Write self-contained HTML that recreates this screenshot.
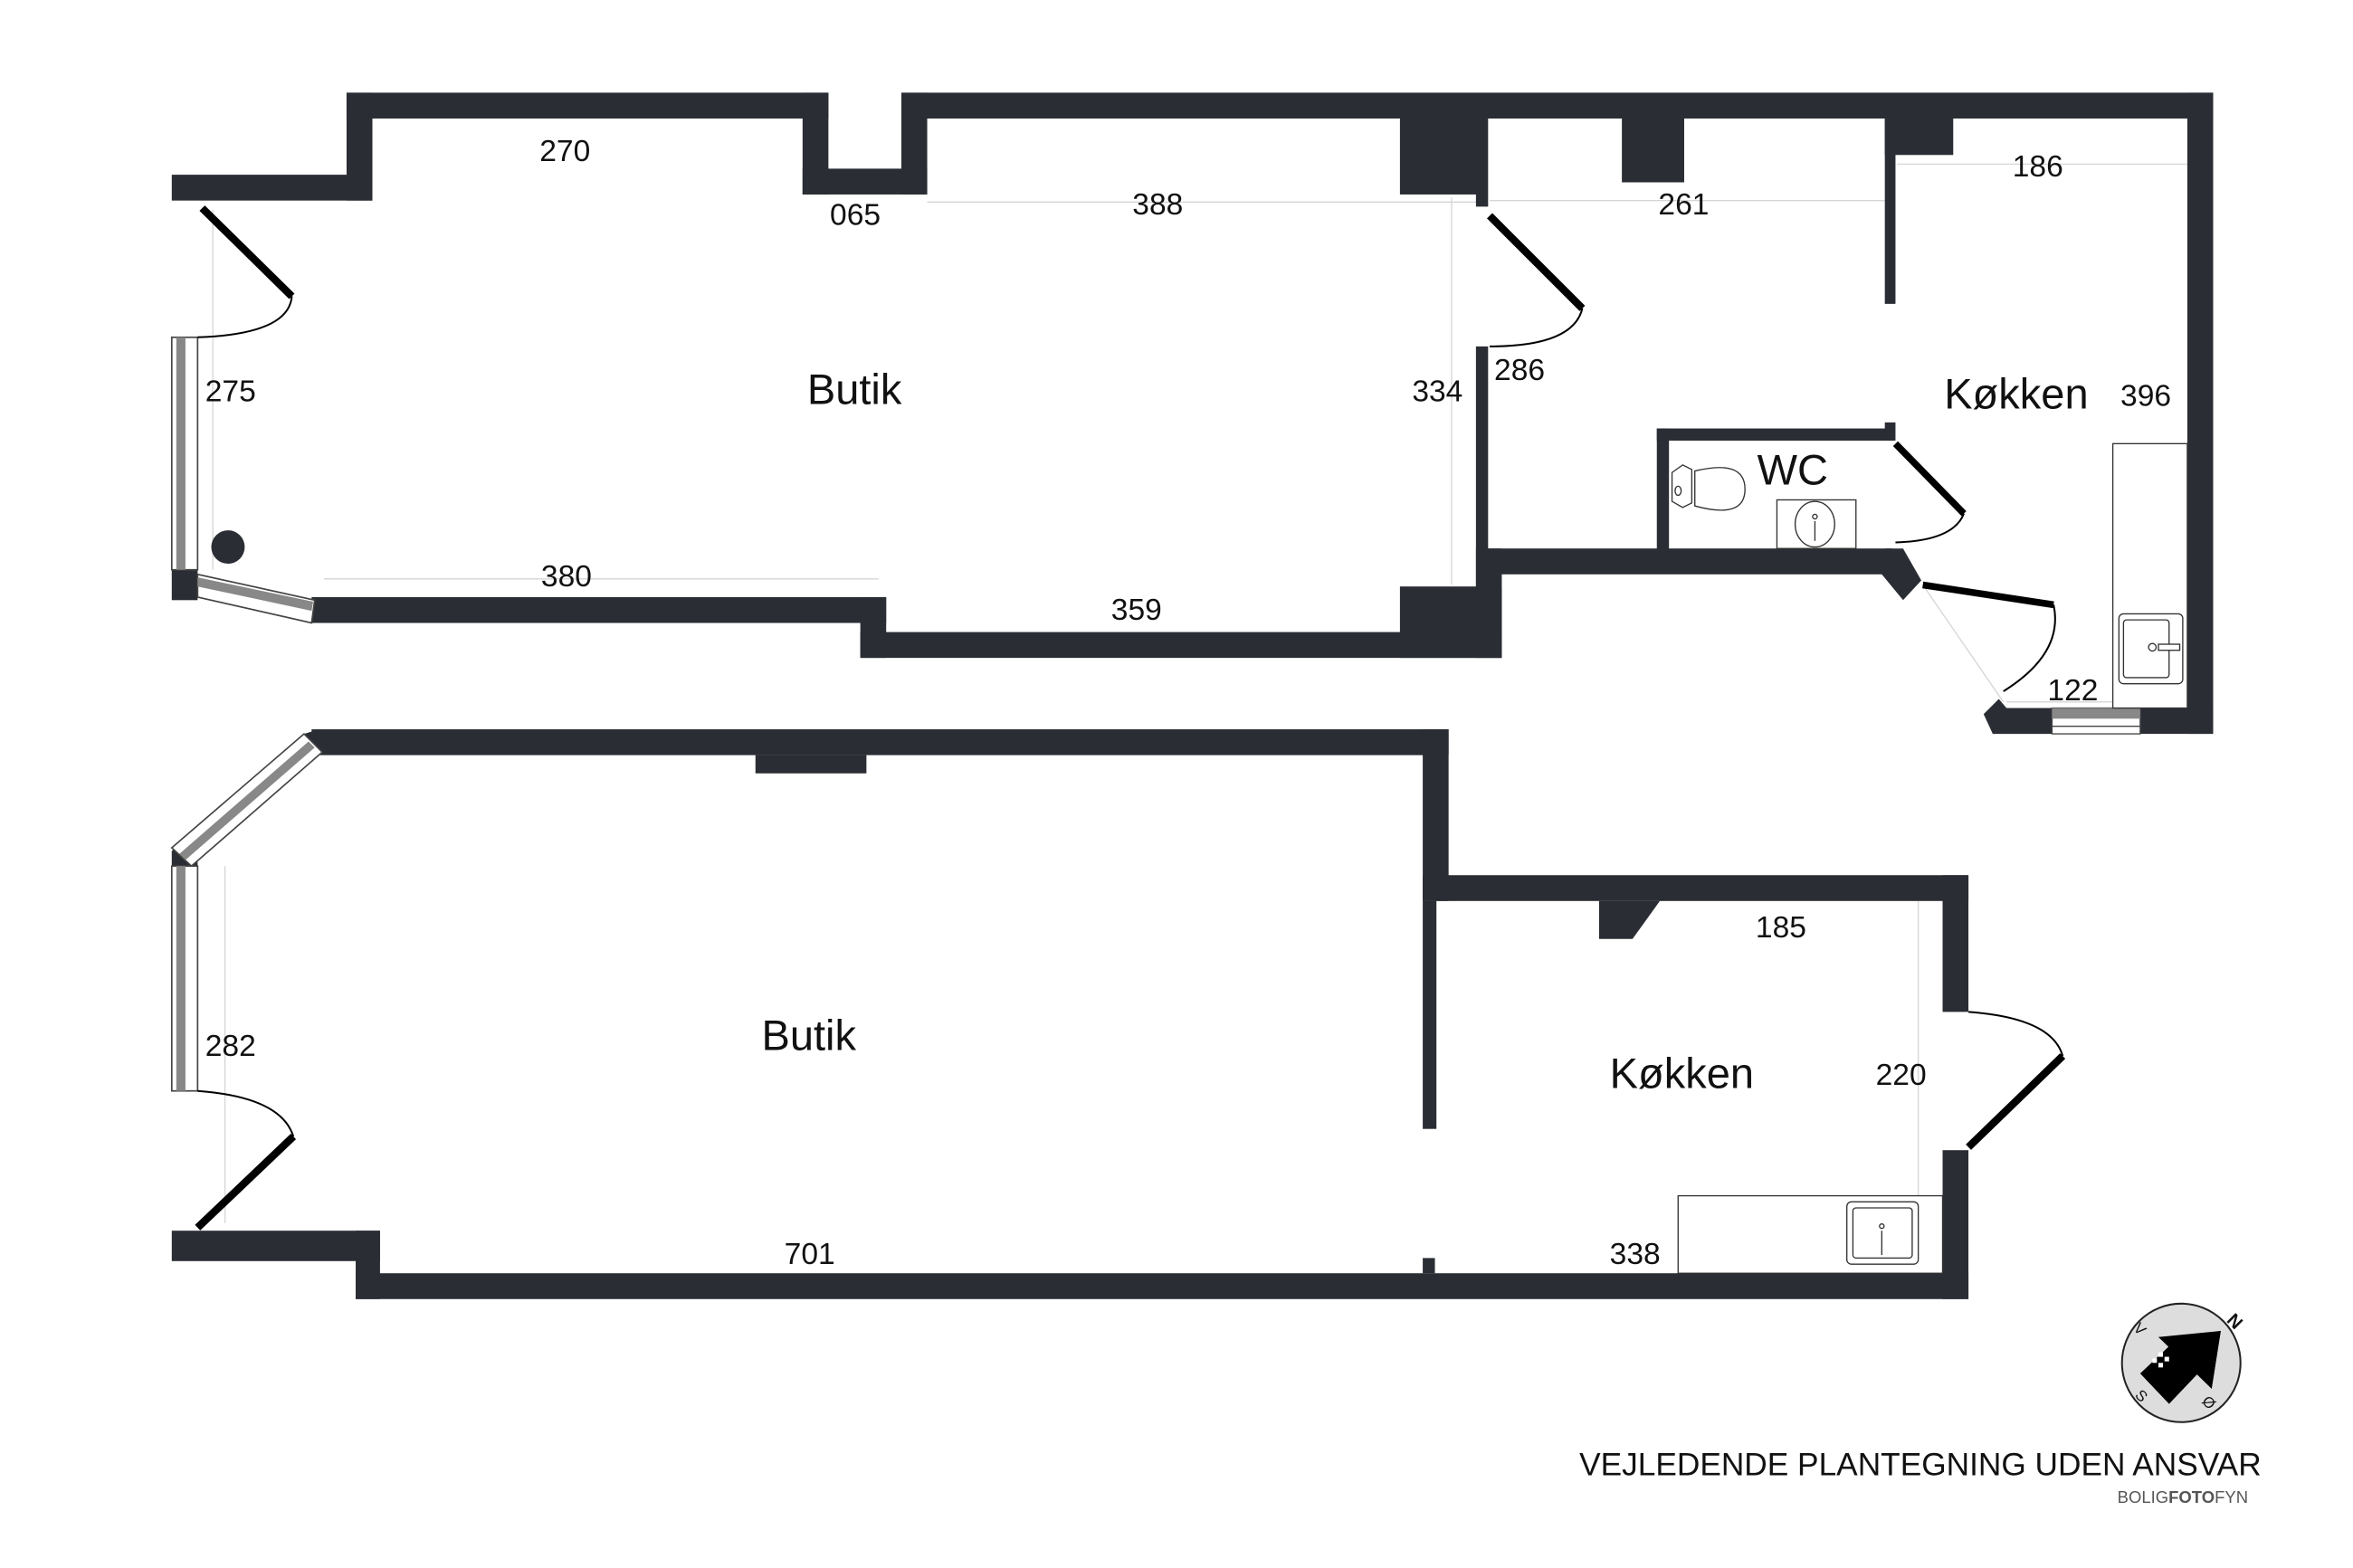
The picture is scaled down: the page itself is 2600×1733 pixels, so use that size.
<!DOCTYPE html>
<html><head><meta charset="utf-8"><style>
html,body{margin:0;padding:0;background:#fff;}
svg{display:block;}
text{font-family:"Liberation Sans",sans-serif;fill:#111;}
</style></head><body>
<svg width="2600" height="1733" viewBox="0 0 1548 1032" preserveAspectRatio="none" xmlns="http://www.w3.org/2000/svg">
<rect width="1548" height="1032" fill="#fff"/>
<g stroke="#d6d6d6" stroke-width="0.8" fill="none">
<line x1="610" y1="133" x2="972" y2="133"/>
<line x1="213" y1="381" x2="578" y2="381"/>
<line x1="1248" y1="108" x2="1439" y2="108"/>
<line x1="980" y1="132" x2="1240" y2="132"/>
<line x1="140" y1="138" x2="140" y2="375"/>
<line x1="955" y1="130" x2="955" y2="385"/>
<line x1="1320" y1="462" x2="1439" y2="462"/>
<line x1="148" y1="570" x2="148" y2="805"/>
<line x1="1262" y1="593" x2="1262" y2="787"/>
<line x1="1265" y1="385" x2="1318" y2="462"/>
</g>
<g fill="#2a2d33">
<!-- top plan -->
<rect x="113" y="115" width="132" height="17"/>
<rect x="228" y="61" width="17" height="71"/>
<rect x="228" y="61" width="317" height="17"/>
<rect x="528" y="61" width="17" height="67"/>
<rect x="528" y="111" width="82" height="17"/>
<rect x="593" y="61" width="17" height="67"/>
<rect x="593" y="61" width="863" height="17"/>
<rect x="921" y="78" width="57" height="50"/>
<rect x="971" y="78" width="8" height="58"/>
<rect x="971" y="228" width="8" height="158"/>
<rect x="1067" y="78" width="41" height="42"/>
<rect x="1240" y="78" width="45" height="24"/>
<rect x="1240" y="78" width="7" height="122"/>
<rect x="1439" y="61" width="17" height="422"/>
<rect x="113" y="375" width="17" height="20"/>
<rect x="205" y="393" width="378" height="17"/>
<rect x="566" y="393" width="17" height="40"/>
<rect x="566" y="416" width="422" height="17"/>
<rect x="921" y="386" width="67" height="47"/>
<rect x="978" y="361" width="267" height="17"/>
<rect x="971" y="361" width="17" height="72"/>
<rect x="1090" y="282" width="8" height="83"/>
<rect x="1090" y="282" width="155" height="8"/>
<rect x="1240" y="278" width="7" height="12"/>
<polygon points="1240,361 1252,361 1264,382 1252,395 1238,378"/>
<polygon points="1305,470 1315,460 1320,466 1350,466 1350,483 1311,483"/>
<rect x="1408" y="466" width="48" height="17"/>
<circle cx="150" cy="360" r="11"/>
<!-- bottom plan -->
<rect x="205" y="480" width="748" height="17"/>
<rect x="497" y="497" width="73" height="12"/>
<rect x="936" y="480" width="17" height="113"/>
<rect x="936" y="576" width="359" height="17"/>
<rect x="1278" y="576" width="17" height="90"/>
<rect x="1278" y="757" width="17" height="98"/>
<rect x="234" y="838" width="1061" height="17"/>
<rect x="113" y="810" width="137" height="20"/>
<rect x="234" y="810" width="16" height="45"/>
<rect x="936" y="593" width="9" height="150"/>
<rect x="936" y="828" width="8" height="10"/>
<polygon points="1052,593 1092,593 1074,618 1052,618"/>
<polygon points="113,560 122,554 130,562 130,570 113,570"/>
<polygon points="200,483 210,480 205,492 198,490"/>
</g>
<!-- windows -->
<g>
<rect x="113" y="222" width="17" height="153" fill="#fff" stroke="#444" stroke-width="1"/>
<rect x="116" y="222" width="6" height="153" fill="#888"/>
<polygon points="130,378 207,395 205,410 130,393" fill="#fff" stroke="#444" stroke-width="1"/>
<polygon points="130,380 206,396 205,402 130,386" fill="#888"/>
<rect x="1350" y="466" width="58" height="17" fill="#fff" stroke="#444" stroke-width="0.8"/>
<rect x="1350" y="466" width="58" height="7" fill="#888"/>
<line x1="1350" y1="478" x2="1408" y2="478" stroke="#444" stroke-width="0.8"/>
<rect x="113" y="570" width="17" height="148" fill="#fff" stroke="#444" stroke-width="1"/>
<rect x="116" y="570" width="6" height="148" fill="#888"/>
<polygon points="113,558 200,483 212,495 126,570" fill="#fff" stroke="#444" stroke-width="1"/>
<polygon points="118,562 203,488 207,492 122,566" fill="#888"/>
</g>
<!-- doors -->
<g stroke="#000" fill="none">
<line x1="133" y1="137" x2="192" y2="195" stroke-width="5"/>
<path d="M192,195 Q190,220 130,222" stroke-width="1.2"/>
<line x1="980" y1="142" x2="1041" y2="203" stroke-width="5"/>
<path d="M1041,203 Q1035,228 980,228" stroke-width="1.2"/>
<line x1="1247" y1="292" x2="1292" y2="338" stroke-width="4.5"/>
<path d="M1292,338 Q1285,356 1247,357" stroke-width="1.2"/>
<line x1="1265" y1="385" x2="1351" y2="398" stroke-width="4.5"/>
<path d="M1351,398 Q1358,430 1318,455" stroke-width="1.2"/>
<line x1="130" y1="808" x2="193" y2="748" stroke-width="5"/>
<path d="M193,748 Q185,722 130,718" stroke-width="1.2"/>
<line x1="1295" y1="755" x2="1357" y2="695" stroke-width="5"/>
<path d="M1357,695 Q1350,670 1295,666" stroke-width="1.2"/>
</g>
<!-- fixtures -->
<g stroke="#333" fill="#fff" stroke-width="0.8">
<rect x="1390" y="292" width="49" height="174"/>
<rect x="1394" y="404" width="42" height="46" rx="3"/>
<rect x="1397" y="408" width="30" height="38" rx="2"/>
<rect x="1420" y="424" width="14" height="4"/>
<circle cx="1416" cy="426" r="2.5"/>
<rect x="1169" y="329" width="52" height="32"/>
<ellipse cx="1194" cy="345" rx="13" ry="15"/>
<line x1="1194" y1="343" x2="1194" y2="356"/>
<circle cx="1194" cy="340" r="1.5"/>
<path d="M1100,311 L1107,306 L1113,309 L1113,331 L1107,334 L1100,330 Z"/>
<path d="M1115,310 Q1148,302 1148,322 Q1148,342 1115,333 Z"/>
<ellipse cx="1104" cy="323" rx="2" ry="3"/>
<rect x="1104" y="787" width="174" height="51"/>
<rect x="1215" y="791" width="47" height="41" rx="3"/>
<rect x="1219" y="795" width="39" height="33" rx="2"/>
<line x1="1238" y1="810" x2="1238" y2="826"/>
<circle cx="1238" cy="807" r="1.5"/>
</g>
<!-- labels -->
<g font-size="20">
<text x="355" y="106">270</text>
<text x="546" y="148">065</text>
<text x="745" y="141">388</text>
<text x="1091" y="141">261</text>
<text x="1324" y="116">186</text>
<text x="135" y="264">275</text>
<text x="929" y="264">334</text>
<text x="983" y="250">286</text>
<text x="1395" y="267">396</text>
<text x="356" y="386">380</text>
<text x="731" y="408">359</text>
<text x="1347" y="461">122</text>
<text x="1155" y="617">185</text>
<text x="135" y="695">282</text>
<text x="1234" y="714">220</text>
<text x="516" y="832">701</text>
<text x="1059" y="832">338</text>
</g>
<g font-size="28">
<text x="531" y="266">Butik</text>
<text x="1279" y="269">Køkken</text>
<text x="1156" y="319">WC</text>
<text x="501" y="691">Butik</text>
<text x="1059" y="716">Køkken</text>
</g>
<text x="1039" y="971" font-size="21">VEJLEDENDE PLANTEGNING UDEN ANSVAR</text>
<text x="1393" y="989" font-size="11" fill="#555" style="fill:#555">BOLIG<tspan font-weight="bold">FOTO</tspan>FYN</text>
<!-- compass -->
<g>
<circle cx="1435" cy="897" r="39" fill="#ddd" stroke="#222" stroke-width="1.2"/>
<polygon points="1426,882 1461,876 1455,914 1446,904 1427,924 1408,904 1427,886 1420,880" fill="#000"/>
<polygon points="1420,880 1461,876 1455,914" fill="#000"/>
<rect x="1420" y="890" width="3" height="3" fill="#fff"/><rect x="1424" y="893" width="3" height="3" fill="#fff"/><rect x="1416" y="894" width="3" height="3" fill="#fff"/><rect x="1420" y="897" width="3" height="3" fill="#fff"/>
<text x="1467" y="873" font-size="12" font-weight="bold" transform="rotate(45 1470 868)">N</text>
<text x="1405" y="878" font-size="10" transform="rotate(45 1408 874)">V</text>
<text x="1406" y="922" font-size="10" transform="rotate(45 1409 918)">S</text>
<text x="1450" y="926" font-size="10" transform="rotate(45 1453 922)">Ø</text>
</g>
</svg>
</body></html>
